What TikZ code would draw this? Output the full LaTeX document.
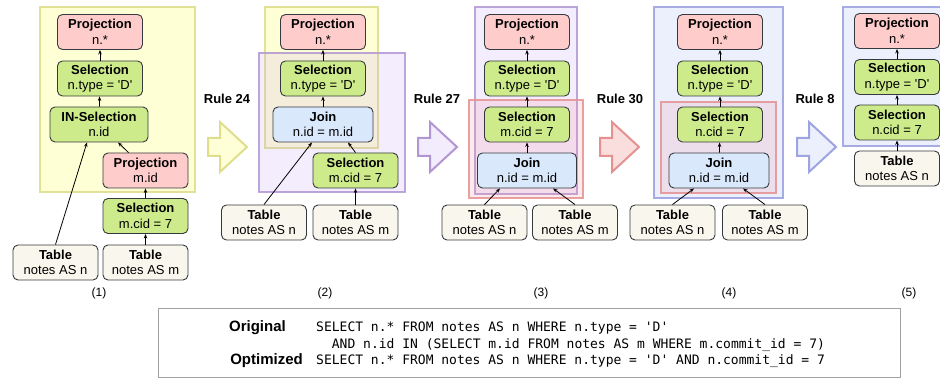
\documentclass[tikz,border=0pt]{standalone}
\usepackage{fontspec}
\setmainfont{Liberation Sans}
\newfontfamily\sqlfont{DejaVu Sans Mono}
\usetikzlibrary{arrows.meta}
\definecolor{projfill}{HTML}{FFCCCC}
\definecolor{selfill}{HTML}{CDEB8B}
\definecolor{joinfill}{HTML}{DAE8FC}
\definecolor{tabfill}{HTML}{F9F7ED}
\definecolor{nodeedge}{HTML}{36393D}
\definecolor{yedge}{RGB}{222,222,140}
\definecolor{yfill}{RGB}{255,255,150}
\definecolor{pedge}{RGB}{178,150,212}
\definecolor{pfill}{RGB}{200,165,245}
\definecolor{redge}{RGB}{230,145,145}
\definecolor{rfill}{RGB}{240,150,165}
\definecolor{bedge}{RGB}{158,163,226}
\definecolor{bfill}{RGB}{180,195,245}
\definecolor{yarf}{RGB}{255,255,215}
\definecolor{parf}{RGB}{243,236,253}
\definecolor{rarf}{RGB}{250,222,222}
\definecolor{barf}{RGB}{236,239,252}
\definecolor{sqlbox}{RGB}{160,160,160}
\newcommand\rulearw[2]{\draw[#2] (#1,138) -- ++(12,0) -- ++(0,-16) -- ++(27,25) -- ++(-27,25) -- ++(0,-16) -- ++(-12,0) -- cycle;}
\newcommand\sq{\textquotesingle}
\tikzset{
  box/.style={draw=nodeedge, line width=0.9pt, rounded corners=5pt, minimum width=85pt, minimum height=35pt, inner sep=0pt, align=center, font=\fontsize{13}{15.5}\selectfont},
  proj/.style={box, fill=projfill},
  sel/.style={box, fill=selfill},
  joinbox/.style={box, fill=joinfill, minimum width=99pt},
  tab/.style={box, fill=tabfill},
  conn/.style={-{Stealth[length=4.5pt,width=3.5pt]}, line width=0.8pt, black},
  ygrp/.style={draw=yedge, line width=2.2pt, draw opacity=0.9, fill=yfill, fill opacity=0.4},
  pgrp/.style={draw=pedge, line width=2.2pt, draw opacity=0.85, fill=pfill, fill opacity=0.2},
  rgrp/.style={draw=redge, line width=2.2pt, draw opacity=0.85, fill=rfill, fill opacity=0.2},
  bgrp/.style={draw=bedge, line width=2.2pt, draw opacity=0.9, fill=bfill, fill opacity=0.25},
  yarrow/.style={draw=yedge, fill=yarf, line width=2pt},
  parrow/.style={draw=pedge, fill=parf, line width=2pt},
  rarrow/.style={draw=redge, fill=rarf, line width=2pt},
  barrow/.style={draw=bedge, fill=barf, line width=2pt},
  rulelbl/.style={font=\fontsize{13}{15}\selectfont\bfseries},
  caplbl/.style={font=\fontsize{12}{14}\selectfont},
  sqllbl/.style={font=\fontsize{15}{17}\selectfont\bfseries, anchor=base east, inner sep=0pt},
  sqltxt/.style={font=\fontsize{13}{16}\sqlfont, anchor=base west, inner sep=0pt}
}
\begin{document}
\begin{tikzpicture}[x=1pt,y=-1pt]
\useasboundingbox (0,0) rectangle (940,379);
% ---------- group boxes ----------
\draw[ygrp] (40,7) rectangle (195,192);
\draw[ygrp] (265,7) rectangle (378,148);
\draw[pgrp] (259,53) rectangle (405,192);
\draw[pgrp] (475,7) rectangle (577,194);
\draw[rgrp] (469,100) rectangle (583,198);
\draw[bgrp] (654,7) rectangle (783,198);
\draw[rgrp] (661,102) rectangle (776,193);
\draw[bgrp] (843,7) rectangle (960,146);
% ---------- rule arrows ----------
\rulearw{208}{yarrow}
\rulearw{418}{parrow}
\rulearw{600}{rarrow}
\rulearw{797}{barrow}
\node[rulelbl] (r24) at (227,99) {Rule 24};
\node[rulelbl] (r27) at (437,99) {Rule 27};
\node[rulelbl] (r30) at (620,99) {Rule 30};
\node[rulelbl] (r8) at (815,99) {Rule 8};
% ---------- panel 1 ----------
\node[proj] (p1a) at (100,32) {\textbf{Projection}\\n.*};
\node[sel] (p1b) at (100,78.5) {\textbf{Selection}\\n.type = \sq D\sq};
\node[box, fill=selfill, minimum width=98pt] (p1c) at (99,124.5) {\textbf{IN-Selection}\\n.id};
\node[proj] (p1d) at (145.5,170.5) {\textbf{Projection}\\m.id};
\node[sel] (p1e) at (145.5,216) {\textbf{Selection}\\m.cid = 7};
\node[tab] (p1f) at (55.5,262.5) {\textbf{Table}\\notes AS n};
\node[tab] (p1g) at (145.5,262.5) {\textbf{Table}\\notes AS m};
\draw[conn] (p1b) -- (p1a);
\draw[conn] (p1c) -- (p1b);
\draw[conn] (p1f.north) -- ([xshift=-12pt]p1c.south);
\draw[conn] ([xshift=-17pt]p1d.north) -- ([xshift=19pt]p1c.south);
\draw[conn] (p1e) -- (p1d);
\draw[conn] (p1g) -- (p1e);
% ---------- panel 2 ----------
\node[proj] (p2a) at (323,32) {\textbf{Projection}\\n.*};
\node[sel] (p2b) at (323,78.5) {\textbf{Selection}\\n.type = \sq D\sq};
\node[joinbox, minimum width=100pt] (p2c) at (323,124.5) {\textbf{Join}\\n.id = m.id};
\node[sel] (p2d) at (355.5,170.5) {\textbf{Selection}\\m.cid = 7};
\node[tab] (p2e) at (264,222.5) {\textbf{Table}\\notes AS n};
\node[tab] (p2f) at (355.5,222.5) {\textbf{Table}\\notes AS m};
\draw[conn] (p2b) -- (p2a);
\draw[conn] (p2c) -- (p2b);
\draw[conn] (p2e.north) -- ([xshift=-11pt]p2c.south);
\draw[conn] (p2d.north) -- ([xshift=25pt]p2c.south);
\draw[conn] (p2f) -- (p2d);
% ---------- panel 3 ----------
\node[proj] (p3a) at (527,32) {\textbf{Projection}\\n.*};
\node[sel] (p3b) at (527,78.5) {\textbf{Selection}\\n.type = \sq D\sq};
\node[sel] (p3c) at (527,124.5) {\textbf{Selection}\\m.cid = 7};
\node[joinbox] (p3d) at (527,170.5) {\textbf{Join}\\n.id = m.id};
\node[tab] (p3e) at (484.5,222.5) {\textbf{Table}\\notes AS n};
\node[tab] (p3f) at (575,222.5) {\textbf{Table}\\notes AS m};
\draw[conn] (p3b) -- (p3a);
\draw[conn] (p3c) -- (p3b);
\draw[conn] (p3d) -- (p3c);
\draw[conn] (p3e.north) -- ([xshift=-27pt]p3d.south);
\draw[conn] (p3f.north) -- ([xshift=26pt]p3d.south);
% ---------- panel 4 ----------
\node[proj] (p4a) at (720,32) {\textbf{Projection}\\n.*};
\node[sel] (p4b) at (720,78.5) {\textbf{Selection}\\n.type = \sq D\sq};
\node[sel] (p4c) at (720,124.5) {\textbf{Selection}\\n.cid = 7};
\node[joinbox, minimum width=100pt] (p4d) at (719,170.5) {\textbf{Join}\\n.id = m.id};
\node[tab] (p4e) at (672.5,222.5) {\textbf{Table}\\notes AS n};
\node[tab] (p4f) at (765,222.5) {\textbf{Table}\\notes AS m};
\draw[conn] (p4b) -- (p4a);
\draw[conn] (p4c) -- (p4b);
\draw[conn] (p4d) -- (p4c);
\draw[conn] (p4e.north) -- ([xshift=-25pt]p4d.south);
\draw[conn] (p4f.north) -- ([xshift=24pt]p4d.south);
% ---------- panel 5 ----------
\node[proj] (p5a) at (897,31) {\textbf{Projection}\\n.*};
\node[sel] (p5b) at (897,77) {\textbf{Selection}\\n.type = \sq D\sq};
\node[sel] (p5c) at (897,122.5) {\textbf{Selection}\\n.cid = 7};
\node[tab] (p5d) at (897,168.5) {\textbf{Table}\\notes AS n};
\draw[conn] (p5b) -- (p5a);
\draw[conn] (p5c) -- (p5b);
\draw[conn] (p5d) -- (p5c);
% ---------- captions ----------
\node[caplbl] (c1) at (99,293) {(1)};
\node[caplbl] (c2) at (325,293) {(2)};
\node[caplbl] (c3) at (541,293) {(3)};
\node[caplbl] (c4) at (729,293) {(4)};
\node[caplbl] (c5) at (909,293) {(5)};
% ---------- SQL box ----------
\draw[draw=sqlbox, line width=1pt] (158,309) rectangle (900,377);
\node[sqllbl] (lo) at (286,332) {Original};
\node[sqllbl] (lp) at (303,365) {Optimized};
\node[sqltxt] (s1) at (316,332) {SELECT n.* FROM notes AS n WHERE n.type = \sq D\sq};
\node[sqltxt] (s2) at (331.7,348.5) {AND n.id IN (SELECT m.id FROM notes AS m WHERE m.commit\_id = 7)};
\node[sqltxt] (s3) at (316,365) {SELECT n.* FROM notes AS n WHERE n.type = \sq D\sq{} AND n.commit\_id = 7};
\end{tikzpicture}
\end{document}
